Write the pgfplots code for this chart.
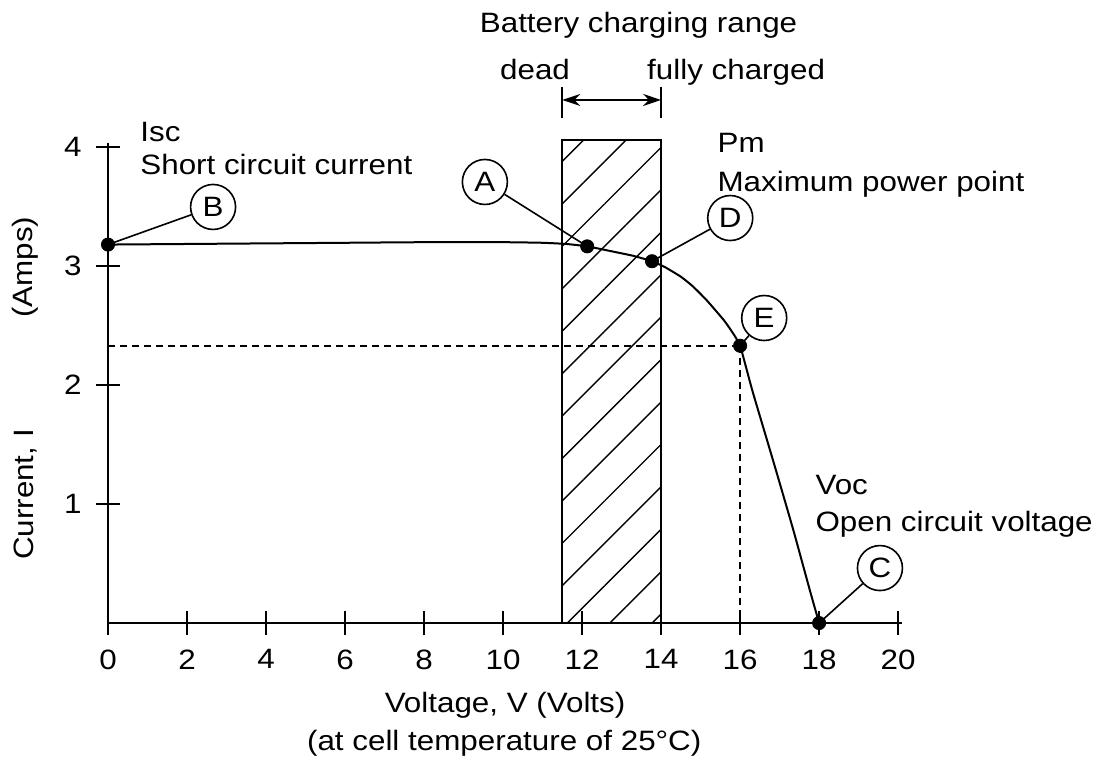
\documentclass[border=0pt]{standalone}
\usepackage{fontspec}
\setmainfont{Liberation Sans}[FakeStretch=1.12]
\usepackage{pgfplots}
\pgfplotsset{compat=1.18}
\usetikzlibrary{patterns.meta, arrows.meta}

\begin{document}
\begin{tikzpicture}[font=\fontsize{14}{17}\selectfont]
\begin{axis}[
  scale only axis, width=397pt, height=239.8pt,
  xmin=0, xmax=20.1, ymin=0, ymax=4.03,
  axis lines=left, axis line style={-, line width=1pt},
  xtick={0,2,...,20}, ytick={1,2,3,4},
  tick align=center, major tick length=12pt,
  tick style={line width=1pt, black},
  /pgf/number format/assume math mode=true,
  xticklabel style={anchor=north, inner sep=0pt, yshift=-7pt},
  yticklabel style={anchor=east, inner sep=0pt, xshift=-7pt},
  clip=false,
]
% bounding box matching reference proportions
\path (axis cs:-2.734,-1.2017) rectangle (axis cs:25.11,5.235);

% hatched battery charging range
\addplot[draw=black, line width=1pt, pattern={Lines[angle=45,distance=15pt,line width=0.7pt]}]
  coordinates {(11.5,0) (11.5,4.06) (14,4.06) (14,0)} \closedcycle;

% dashed guides through E
\addplot[dashed, dash pattern=on 3.5pt off 2.5pt, line width=0.9pt] coordinates {(0,2.33) (16,2.33)};
\addplot[dashed, dash pattern=on 3.5pt off 2.5pt, line width=0.9pt] coordinates {(16,2.33) (16,0)};

% I-V curve
\addplot[line width=1pt, smooth, tension=0.3] coordinates {
 (0,3.18) (2,3.185) (4,3.19) (6,3.195) (8,3.2) (10,3.2) (11,3.195) (11.6,3.185)
 (12.13,3.165) (12.8,3.12) (13.3,3.085) (13.77,3.04) (14.1,2.99) (14.5,2.91)
 (14.8,2.83) (15.16,2.71) (15.6,2.54) (15.85,2.42) (16,2.33) (16.15,2.15) (16.33,1.93) (16.84,1.36)
 (17.34,0.79) (17.77,0.27) (18,0)};

% key points
\addplot[only marks, mark=*, mark size=3.3pt, black] coordinates {(0,3.18) (12.13,3.165) (13.77,3.04) (16,2.33) (18,0)};

% circled labels
\tikzset{lbl/.style={circle, draw, line width=0.8pt, minimum size=22.5pt, inner sep=0pt}}
\node[lbl] (B) at (axis cs:2.66,3.496) {B};
\node[lbl] (A) at (axis cs:9.54,3.706) {A};
\node[lbl] (D) at (axis cs:15.75,3.403) {D};
\node[lbl] (E) at (axis cs:16.61,2.563) {E};
\node[lbl] (C) at (axis cs:19.54,0.462) {C};
\draw[line width=0.8pt] (axis cs:0,3.18) -- (B);
\draw[line width=0.8pt] (axis cs:12.13,3.165) -- (A);
\draw[line width=0.8pt] (axis cs:13.77,3.04) -- (D);
\draw[line width=0.8pt] (axis cs:16,2.33) -- (E);
\draw[line width=0.8pt] (axis cs:18,0) -- (C);

% texts
\node[anchor=base] at (axis cs:13.43,4.966) {Battery charging range};
\node[anchor=base] at (axis cs:10.81,4.563) {dead};
\node[anchor=base] at (axis cs:15.90,4.563) {fully charged};
\draw[line width=1pt] (axis cs:11.5,4.244) -- (axis cs:11.5,4.504);
\draw[line width=1pt] (axis cs:14,4.244) -- (axis cs:14,4.504);
\draw[{Stealth[length=9pt,width=6pt]}-{Stealth[length=9pt,width=6pt]}, line width=1pt]
  (axis cs:11.5,4.395) -- (axis cs:14,4.395);

\node[anchor=base west, inner sep=0pt] at (axis cs:0.81,4.042) {Isc};
\node[anchor=base west, inner sep=0pt] at (axis cs:0.81,3.765) {Short circuit current};
\node[anchor=base west, inner sep=0pt] at (axis cs:15.42,3.95) {Pm};
\node[anchor=base west, inner sep=0pt] at (axis cs:15.42,3.63) {Maximum power point};
\node[anchor=base west, inner sep=0pt] at (axis cs:17.90,1.076) {Voc};
\node[anchor=base west, inner sep=0pt] at (axis cs:17.90,0.765) {Open circuit voltage};

\node[rotate=90] at (axis cs:-2.10,1.08) {Current, I};
\node[rotate=90] at (axis cs:-2.10,2.99) {(Amps)};

\node[anchor=base] at (axis cs:10.05,-0.748) {Voltage, V (Volts)};
\node[anchor=base] at (axis cs:10.03,-1.067) {(at cell temperature of 25°C)};
\end{axis}
\end{tikzpicture}
\end{document}
